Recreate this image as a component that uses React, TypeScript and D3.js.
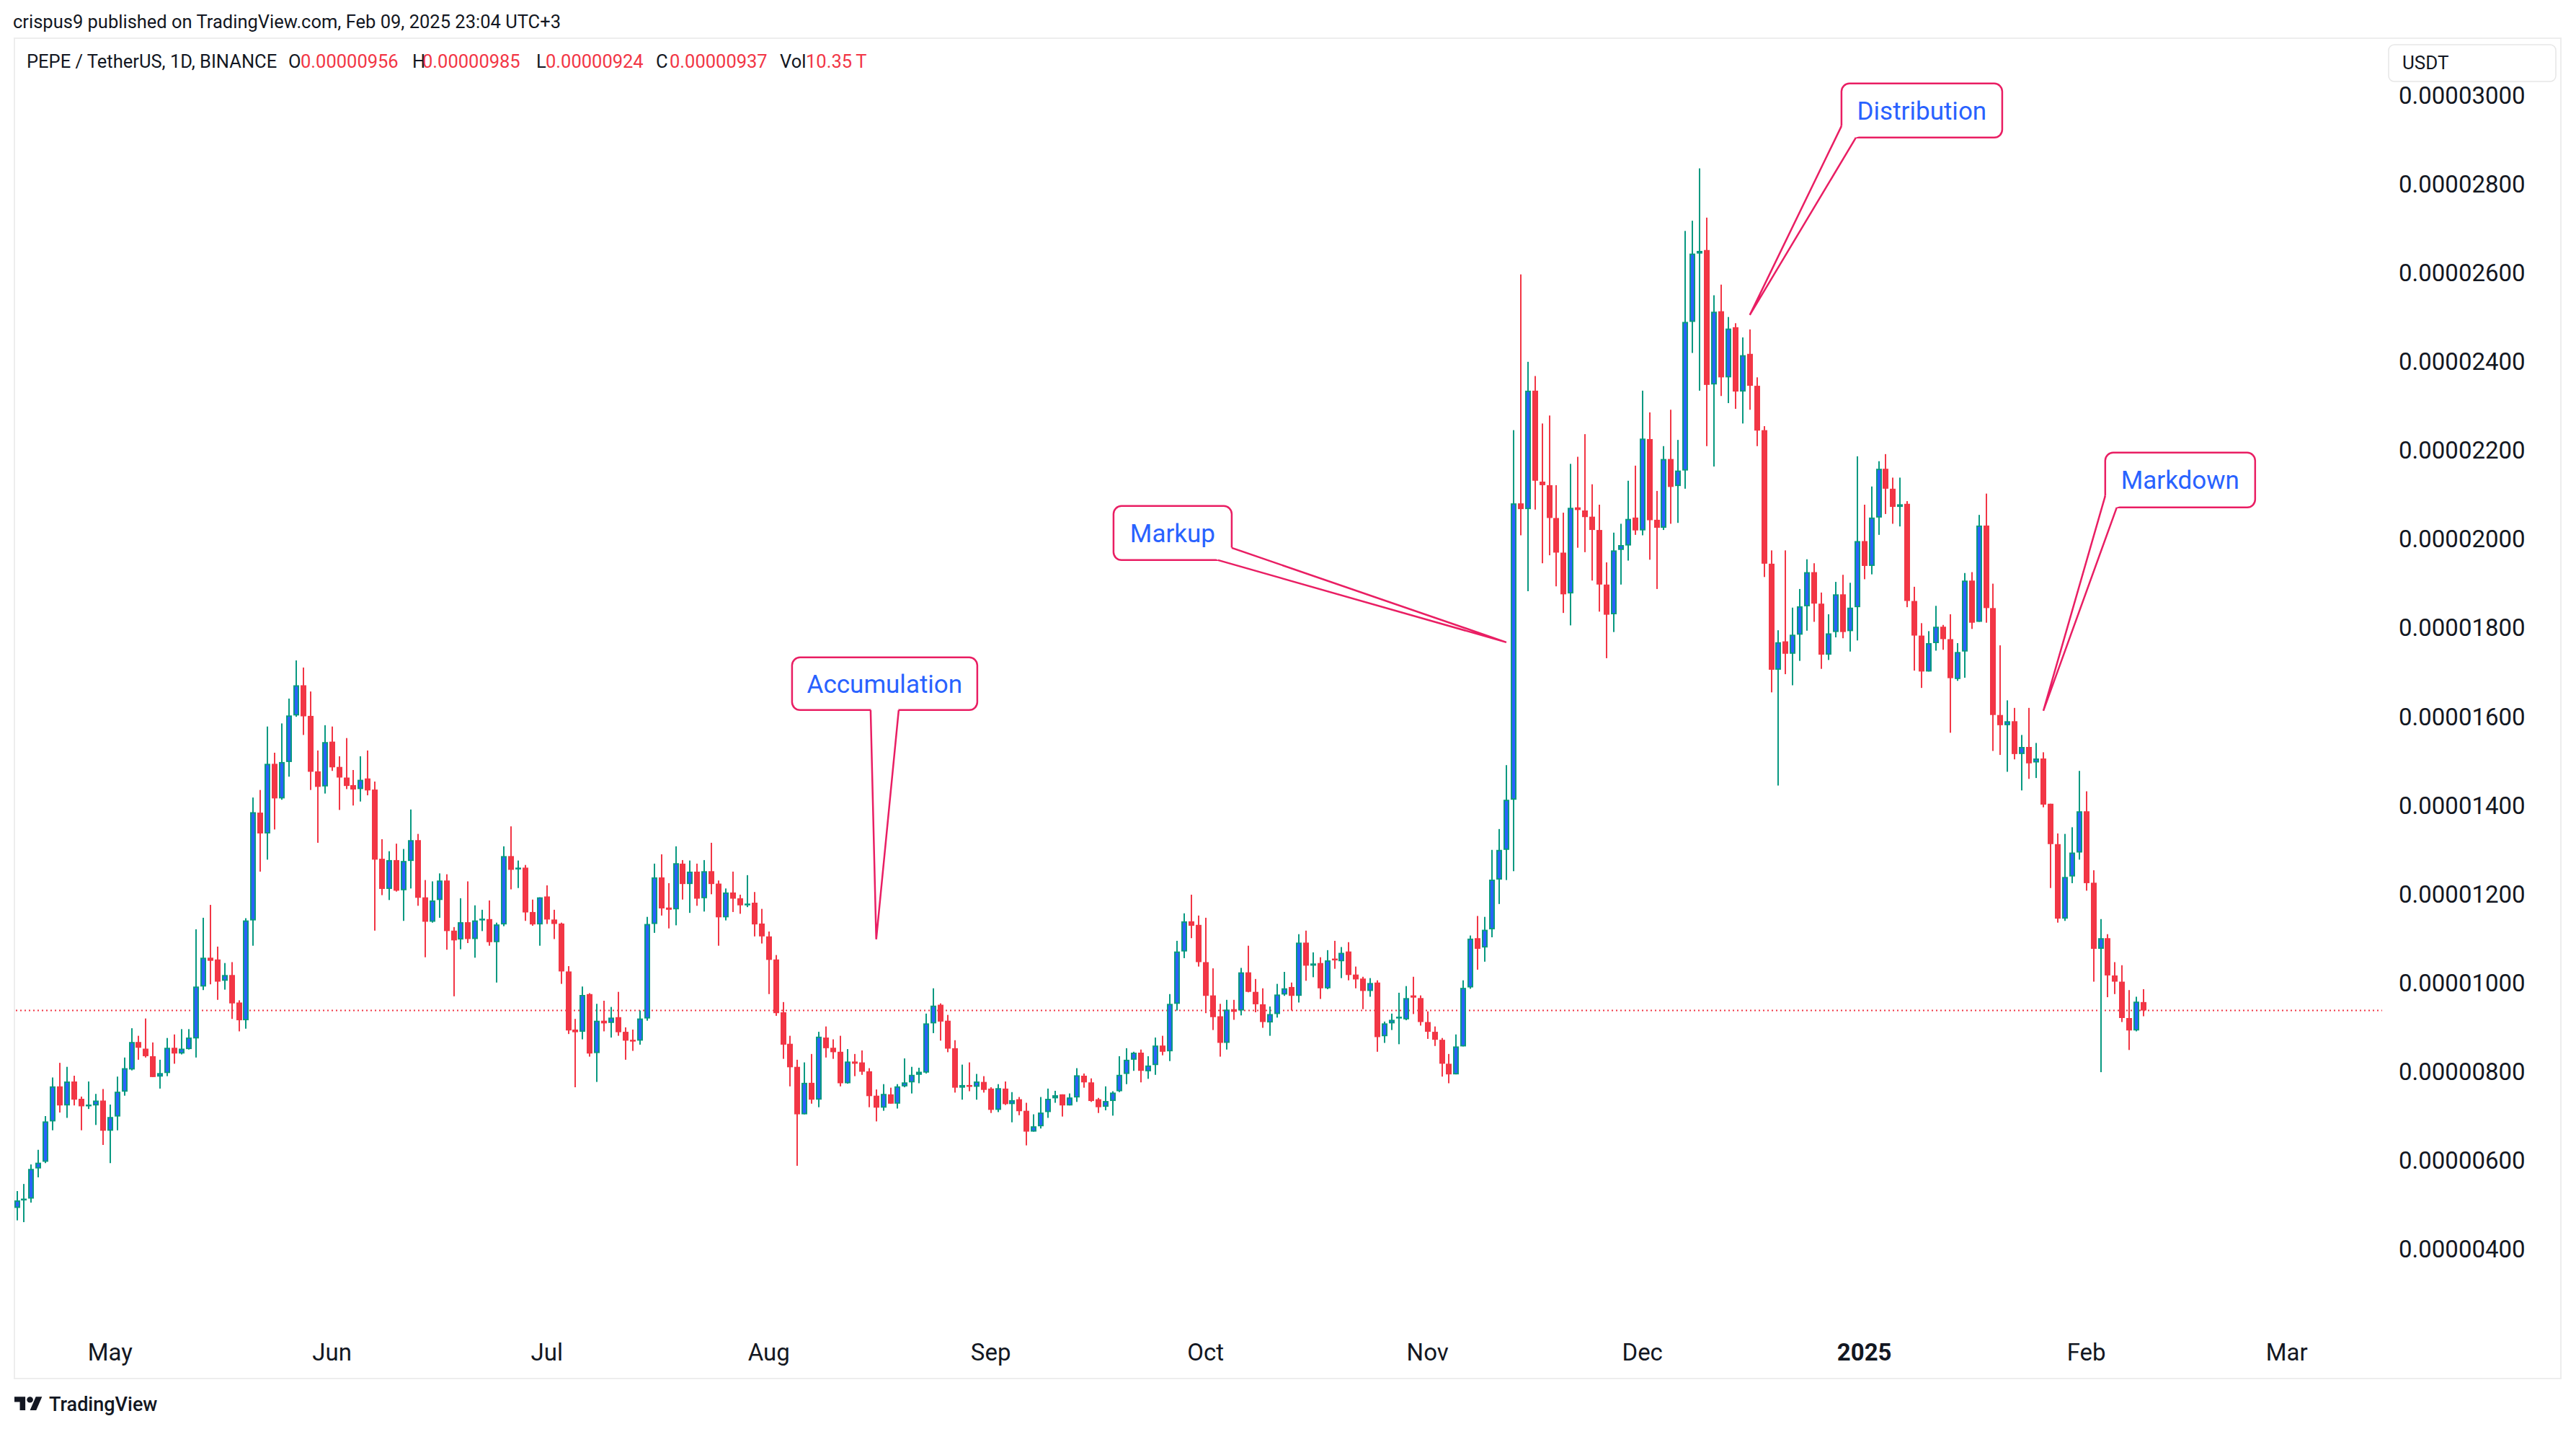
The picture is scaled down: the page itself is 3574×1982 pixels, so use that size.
import React, { useEffect } from "react";
import * as d3 from "d3";

const W = 3574;
const H = 1982;

// Daily candles, first candle date; values in units of 1e-6 USDT
const START_DATE = "2024-04-18";
const UNIT = 1e-6;

const OPEN = [
  4.92,5.09,5.13,5.81,5.96,6.87,7.66,7.23,7.77,7.38,
  7.23,7.23,7.34,6.66,6.98,7.54,8.04,8.66,8.51,8.34,
  7.88,7.96,8.53,8.40,8.50,8.74,9.91,10.56,10.52,10.04,
  10.17,9.55,9.15,11.40,13.83,13.36,14.93,14.15,14.97,16.02,
  16.70,16.01,14.76,14.42,15.43,14.86,14.62,14.45,14.36,14.60,
  14.35,12.79,12.11,12.76,12.08,12.74,13.21,11.92,11.37,11.86,
  12.30,11.17,10.97,11.36,10.98,11.43,11.43,10.91,11.31,12.85,
  12.55,12.59,11.59,11.31,11.94,11.42,11.33,10.25,8.94,8.89,
  9.74,8.41,9.14,9.09,9.22,8.89,8.71,8.69,9.19,11.32,
  12.37,11.69,11.65,12.68,12.22,12.50,11.90,12.51,12.23,11.47,
  12.03,11.90,11.74,11.80,11.33,11.04,10.52,9.33,8.62,8.10,
  7.03,7.74,7.36,8.76,8.53,8.44,7.73,8.22,8.20,8.00,
  7.45,7.18,7.48,7.27,7.66,7.75,7.92,7.97,9.08,9.50,
  9.14,8.52,7.63,7.69,7.65,7.76,7.61,7.13,7.61,7.26,
  7.37,7.11,6.64,6.76,7.08,7.39,7.48,7.23,7.41,7.90,
  7.75,7.37,7.20,7.33,7.55,7.94,8.26,8.42,8.00,8.14,
  8.58,8.45,9.52,10.70,11.38,11.30,10.46,9.71,9.24,8.64,
  9.40,9.37,10.23,9.79,9.51,9.10,9.29,9.73,9.90,9.70,
  10.90,10.38,10.44,9.87,10.54,10.48,10.70,10.18,10.09,9.81,
  10.00,8.79,9.08,9.19,9.17,9.71,9.65,9.11,8.89,8.71,
  8.17,7.93,8.56,9.89,11.00,10.79,11.20,12.32,12.99,14.12,
  20.80,20.67,23.34,21.29,21.21,20.47,19.69,18.77,20.71,20.64,
  20.50,20.20,18.97,18.30,19.75,19.85,20.48,20.19,22.25,20.43,
  20.25,21.80,21.19,21.54,24.89,26.43,26.51,23.48,25.13,23.64,
  24.77,23.32,24.17,23.45,22.45,19.44,17.05,17.69,17.41,17.84,
  18.48,19.25,18.54,17.39,17.90,18.75,17.92,18.46,19.95,19.39,
  20.48,21.58,21.13,20.72,20.79,18.60,17.82,17.01,17.65,18.02,
  17.74,16.84,17.46,19.06,18.13,20.30,18.44,16.03,15.80,15.89,
  15.15,15.31,14.96,15.05,14.03,13.12,11.44,12.39,12.93,13.86,
  12.25,10.76,11.00,10.16,10.02,9.20,8.92,9.56
];

const HIGH = [
  5.30,5.46,5.90,6.23,6.99,7.86,8.19,8.10,7.90,7.43,
  7.77,7.49,7.60,7.25,7.88,8.31,8.97,8.80,9.19,8.65,
  8.26,8.75,8.83,8.95,8.95,11.20,11.46,11.75,10.81,10.44,
  10.46,9.60,11.45,14.17,14.34,15.77,15.18,15.84,16.40,17.26,
  17.10,16.56,15.23,15.80,15.77,15.10,15.51,14.79,15.10,15.23,
  14.53,13.23,12.96,13.13,13.01,13.90,13.35,12.31,12.28,12.46,
  12.44,11.25,11.90,12.28,11.74,11.64,11.85,11.35,13.07,13.52,
  12.75,12.65,11.87,11.92,12.19,11.64,11.35,10.37,9.18,9.91,
  9.76,9.52,9.59,9.45,9.79,8.99,8.94,9.37,11.48,12.68,
  12.89,12.24,13.07,12.76,12.75,12.68,12.76,13.15,12.30,12.12,
  12.50,11.98,12.42,12.04,11.66,11.15,10.62,9.56,8.80,8.26,
  8.20,8.39,8.89,9.01,8.72,8.80,8.50,8.39,8.47,8.07,
  7.59,7.71,7.63,7.71,8.29,8.10,8.08,9.30,9.87,9.53,
  9.27,8.70,8.15,8.20,7.94,7.89,7.64,7.71,7.77,7.53,
  7.42,7.29,7.03,7.42,7.61,7.56,7.48,7.50,8.07,7.95,
  7.84,7.40,7.66,7.55,8.34,8.52,8.44,8.49,8.34,8.76,
  8.80,9.74,10.94,11.56,11.98,11.51,11.46,10.32,9.52,9.61,
  9.61,10.33,10.83,10.08,9.87,9.46,9.97,10.24,10.00,11.09,
  11.17,10.68,10.57,10.73,10.94,10.80,10.91,10.36,10.13,10.10,
  10.05,9.12,9.30,9.77,9.92,10.13,9.71,9.35,9.01,8.75,
  8.39,8.83,10.05,11.06,11.50,11.48,12.99,13.46,14.90,22.45,
  25.96,23.99,23.67,22.60,22.78,21.21,20.59,21.69,21.85,22.36,
  21.23,20.77,19.47,20.14,20.34,21.31,21.65,23.34,22.85,21.08,
  22.09,22.91,22.23,26.94,27.17,28.35,27.24,25.49,25.73,25.00,
  24.86,24.54,24.72,23.64,22.54,19.74,17.94,19.74,18.45,18.87,
  19.54,19.45,18.79,18.30,19.03,19.19,19.01,21.86,20.77,21.18,
  21.75,21.91,21.38,21.38,20.85,18.92,18.10,17.92,18.49,18.06,
  18.30,17.65,19.23,19.25,20.54,21.02,18.99,17.60,16.36,16.19,
  15.58,16.19,15.40,15.19,14.03,13.36,13.35,13.50,14.77,14.31,
  12.53,11.43,11.09,10.46,10.39,9.83,9.68,9.85
];

const LOW = [
  4.64,4.60,5.04,5.61,5.93,6.67,7.07,6.95,7.23,6.67,
  7.15,6.79,6.34,5.93,6.67,7.45,8.02,8.26,8.31,7.87,
  7.61,7.89,8.17,8.38,8.49,8.31,9.83,9.96,9.61,9.84,
  9.18,8.90,8.96,10.83,12.50,12.77,13.45,14.12,14.64,15.99,
  15.58,14.34,13.15,14.26,14.77,13.89,14.36,13.99,14.08,14.22,
  11.17,11.97,11.86,12.05,11.39,12.12,11.73,10.57,11.35,11.46,
  10.74,9.69,10.75,10.89,10.56,11.16,10.83,10.00,11.27,12.10,
  12.13,11.39,11.28,10.83,11.32,10.98,9.97,8.84,7.64,8.72,
  8.33,7.76,8.90,8.76,8.80,8.26,8.46,8.60,9.14,11.12,
  11.51,11.22,11.29,11.87,11.57,11.73,11.60,11.99,10.83,11.40,
  11.59,11.55,11.70,11.04,10.88,9.74,9.25,8.28,7.66,5.87,
  7.03,7.27,7.19,8.31,8.28,7.66,7.72,7.89,7.92,7.19,
  6.87,7.11,7.27,7.16,7.64,7.50,7.73,7.95,8.86,8.69,
  8.43,7.52,7.36,7.55,7.36,7.52,7.06,7.08,7.24,6.85,
  7.01,6.33,6.64,6.71,6.95,7.29,6.98,7.23,7.31,7.63,
  7.31,7.06,7.12,7.00,7.53,7.71,8.01,7.75,7.83,7.92,
  8.36,8.23,9.37,10.55,11.00,10.36,9.31,8.93,8.33,8.49,
  9.16,9.26,9.78,9.33,8.98,8.80,9.21,9.70,9.37,9.55,
  10.04,10.12,9.63,9.85,10.31,10.10,10.05,9.87,9.40,9.68,
  8.44,8.64,8.93,8.61,9.15,9.29,9.03,8.73,8.57,7.88,
  7.73,7.93,8.56,9.86,10.29,10.47,11.02,11.77,12.31,12.51,
  20.08,18.82,20.66,19.45,19.63,18.93,18.33,18.05,19.80,19.70,
  19.06,18.36,17.31,17.90,18.97,19.51,20.09,20.08,19.53,18.87,
  20.20,20.34,20.36,21.13,24.19,23.34,22.09,21.63,23.22,23.06,
  22.93,22.60,22.91,22.09,19.14,16.54,14.44,16.95,16.70,17.25,
  17.93,18.13,17.07,17.27,17.78,17.76,17.46,17.71,19.09,19.20,
  20.09,20.56,20.34,20.28,18.46,17.03,16.64,17.01,17.48,17.50,
  15.63,16.80,16.87,17.97,18.13,18.11,15.22,15.13,14.75,15.03,
  14.33,14.59,14.61,13.95,12.13,11.35,11.39,12.24,12.77,12.07,
  10.02,7.98,9.67,9.74,9.11,8.48,8.90,9.24
];

const CLOSE = [
  5.09,5.13,5.80,5.94,6.87,7.66,7.23,7.77,7.36,7.21,
  7.25,7.34,6.66,6.97,7.54,8.07,8.66,8.53,8.34,7.87,
  7.96,8.53,8.40,8.51,8.76,9.91,10.56,10.49,10.02,10.17,
  9.53,9.15,11.40,13.84,13.36,14.93,14.15,14.97,16.02,16.70,
  16.00,14.75,14.41,15.42,14.85,14.62,14.43,14.35,14.57,14.33,
  12.77,12.11,12.76,12.07,12.74,13.21,11.91,11.37,11.85,12.30,
  11.16,10.95,11.36,10.98,11.40,11.44,10.91,11.31,12.85,12.54,
  12.59,11.58,11.31,11.92,11.42,11.32,10.25,8.92,8.88,9.72,
  8.40,9.14,9.08,9.21,8.88,8.69,8.69,9.19,11.32,12.37,
  11.67,11.64,12.69,12.22,12.50,11.89,12.51,12.22,11.47,12.03,
  11.89,11.74,11.78,11.31,11.04,10.51,9.31,8.60,8.09,7.03,
  7.74,7.36,8.78,8.52,8.43,7.73,8.22,8.17,7.99,7.44,
  7.18,7.49,7.27,7.66,7.75,7.92,7.99,9.08,9.48,9.12,
  8.51,7.63,7.69,7.65,7.77,7.58,7.13,7.62,7.26,7.35,
  7.10,6.64,6.76,7.07,7.38,7.46,7.23,7.41,7.91,7.75,
  7.33,7.19,7.33,7.52,7.92,8.26,8.42,8.01,8.13,8.58,
  8.44,9.52,10.70,11.38,11.28,10.46,9.70,9.22,8.64,9.39,
  9.34,10.23,9.79,9.51,9.11,9.29,9.73,9.87,9.70,10.90,
  10.38,10.43,9.87,10.50,10.51,10.67,10.17,10.07,9.81,9.99,
  8.77,9.08,9.16,9.23,9.65,9.66,9.11,8.89,8.71,8.17,
  7.93,8.56,9.88,10.99,10.76,11.19,12.32,12.99,14.12,20.80,
  20.67,23.34,21.31,21.21,20.47,19.69,18.75,20.70,20.65,20.49,
  20.20,18.97,18.29,19.74,19.86,20.45,20.19,22.26,20.42,20.25,
  21.80,21.17,21.54,24.89,26.43,26.49,23.47,25.12,23.64,24.74,
  23.32,24.14,23.45,22.44,19.44,17.05,17.67,17.41,17.84,18.48,
  19.25,18.54,17.39,17.87,18.75,17.90,18.45,19.95,19.39,20.48,
  21.58,21.13,20.72,20.78,18.60,17.82,17.01,17.65,18.02,17.74,
  16.86,17.45,19.06,18.11,20.30,18.44,16.03,15.80,15.89,15.15,
  15.31,14.94,15.05,14.01,13.12,11.44,12.38,12.93,13.86,12.24,
  10.76,11.00,10.16,10.02,9.20,8.92,9.57,9.37
];

const LAST_PRICE = 9.37;

const PRICE_TICKS = [30, 28, 26, 24, 22, 20, 18, 16, 14, 12, 10, 8, 6, 4];

const TIME_TICKS = [
  { date: "2024-05-01", label: "May", bold: false },
  { date: "2024-06-01", label: "Jun", bold: false },
  { date: "2024-07-01", label: "Jul", bold: false },
  { date: "2024-08-01", label: "Aug", bold: false },
  { date: "2024-09-01", label: "Sep", bold: false },
  { date: "2024-10-01", label: "Oct", bold: false },
  { date: "2024-11-01", label: "Nov", bold: false },
  { date: "2024-12-01", label: "Dec", bold: false },
  { date: "2025-01-01", label: "2025", bold: true },
  { date: "2025-02-01", label: "Feb", bold: false },
  { date: "2025-03-01", label: "Mar", bold: false },
];

const PUBLISHED = "crispus9 published on TradingView.com, Feb 09, 2025 23:04 UTC+3";
const LEGEND_TITLE = "PEPE / TetherUS, 1D, BINANCE";
const LEGEND_KEYS = ["O", "H", "L", "C", "Vol"];
const LEGEND_VALUES = ["0.00000956", "0.00000985", "0.00000924", "0.00000937", "10.35\u2009T"];
const CURRENCY = "USDT";

// callouts: tip anchored on (date, price)
const CALLOUT_TEXT = ["Accumulation", "Markup", "Distribution", "Markdown"];
const CALLOUT_TIP_DATE = ["2024-08-16", "2024-11-12", "2024-12-16", "2025-01-26"];
const CALLOUT_TIP_PRICE = [10.974, 17.669, 25.046, 16.125];

const TEAL = "#089981";
const BLUE = "#2962FF";
const RED = "#F23645";
const PINK = "#E91E63";
const INK = "#131722";
const FONT = "Roboto, 'Liberation Sans', Arial, sans-serif";

const utc = (s: string) => new Date(s + "T00:00:00Z");

export default function App() {
  useEffect(() => {
    document.body.style.margin = "0";
    document.body.style.overflow = "hidden";
  }, []);

  const x = d3.scaleUtc().domain([utc("2024-05-01"), utc("2025-03-01")]).range([152.7, 3172.8]);
  const y = d3.scaleLinear().domain([4, 30]).range([1732, 132]);

  const start = utc(START_DATE);
  const candles = OPEN.map((o, i) => ({
    date: d3.utcDay.offset(start, i),
    o, h: HIGH[i], l: LOW[i], c: CLOSE[i],
  }));

  const fmt = (v: number) => (v * UNIT).toFixed(8);

  // callout box geometry (pixel offsets relative to tip)
  const calloutGeom = [
    { dx: -116.8, dy: -391, w: 257, h: 73, b1: [109, 73], b2: [148, 73] },
    { dx: -545, dy: -189, w: 164, h: 75, b1: [164, 58], b2: [145, 75] },
    { dx: 127.2, dy: -321, w: 223, h: 75, b1: [0, 59], b2: [20, 75] },
    { dx: 85.8, dy: -358, w: 208, h: 76, b1: [0, 60], b2: [16, 76] },
  ];

  const legendX = [400, 572, 744, 910, 1082];
  const legendVX = [417, 586, 757, 929, 1118];

  const yLast = y(LAST_PRICE);

  return (
    <svg
      width={W}
      height={H}
      viewBox={`0 0 ${W} ${H}`}
      style={{ position: "absolute", left: 0, top: 0, background: "#ffffff" }}
      fontFamily={FONT}
    >
      <rect x={0} y={0} width={W} height={H} fill="#ffffff" />

      <text x={18} y={39} fontSize={25.5} fill={INK}>{PUBLISHED}</text>

      <rect x={20} y={53} width={3533} height={1859} fill="none" stroke="#EDEDED" strokeWidth={2} />

      {/* legend */}
      <text x={37} y={94} fontSize={25.5} fill={INK}>{LEGEND_TITLE}</text>
      {LEGEND_KEYS.map((k, i) => (
        <g key={k}>
          <text x={legendX[i]} y={94} fontSize={25.5} fill={INK}>{k}</text>
          <text x={legendVX[i]} y={94} fontSize={25.5} fill={RED}>{LEGEND_VALUES[i]}</text>
        </g>
      ))}

      {/* currency box */}
      <rect x={3314} y={62} width={232} height={51} rx={8} fill="#ffffff" stroke="#E6E6E6" strokeWidth={1.5} />
      <text x={3333} y={96} fontSize={26} fill={INK}>{CURRENCY}</text>

      {/* price axis labels */}
      {PRICE_TICKS.map((p) => (
        <text key={p} x={3328} y={y(p) + 12} fontSize={33} fill={INK}>{fmt(p)}</text>
      ))}

      {/* time axis labels */}
      {TIME_TICKS.map((t) => (
        <text
          key={t.label}
          x={x(utc(t.date))}
          y={1887}
          fontSize={33}
          textAnchor="middle"
          fontWeight={t.bold ? 700 : 400}
          fill={INK}
        >
          {t.label}
        </text>
      ))}

      {/* last price dotted line */}
      <line x1={22} x2={3305} y1={yLast} y2={yLast} stroke={RED} strokeWidth={2} strokeDasharray="2 4" />

      {/* candles */}
      {candles.map((d, i) => {
        const cx = Math.round(x(d.date));
        const up = d.c >= d.o;
        const col = up ? TEAL : RED;
        const yTop = y(Math.max(d.o, d.c));
        const yBot = y(Math.min(d.o, d.c));
        const bh = Math.max(2.5, yBot - yTop);
        const yh = y(d.h);
        const yl = y(d.l);
        return (
          <g key={i}>
            <rect x={cx - 1} y={yh} width={2} height={Math.max(1, yl - yh)} fill={col} />
            <rect x={cx - 4} y={yTop} width={8} height={bh} fill={col} />
            {up && bh > 4.5 ? (
              <rect x={cx - 2} y={yTop + 2} width={4} height={bh - 4} fill={BLUE} />
            ) : null}
          </g>
        );
      })}

      {/* callouts */}
      {CALLOUT_TEXT.map((txt, i) => {
        const g = calloutGeom[i];
        const tx = x(utc(CALLOUT_TIP_DATE[i]));
        const ty = y(CALLOUT_TIP_PRICE[i]);
        const x0 = tx + g.dx;
        const y0 = ty + g.dy;
        const b1 = [x0 + g.b1[0], y0 + g.b1[1]];
        const b2 = [x0 + g.b2[0], y0 + g.b2[1]];
        const cxm = x0 + g.w / 2;
        const cym = y0 + g.h / 2;
        return (
          <g key={txt}>
            <rect x={x0} y={y0} width={g.w} height={g.h} rx={11} fill="#ffffff" stroke={PINK} strokeWidth={2.5} />
            <polygon points={`${b1[0]},${b1[1]} ${tx},${ty} ${b2[0]},${b2[1]} ${cxm},${cym}`} fill="#ffffff" />
            <polyline
              points={`${b1[0]},${b1[1]} ${tx},${ty} ${b2[0]},${b2[1]}`}
              fill="none"
              stroke={PINK}
              strokeWidth={2.5}
              strokeLinejoin="miter"
            />
            <text x={cxm} y={cym + 12.5} fontSize={35} textAnchor="middle" fill={BLUE}>{txt}</text>
          </g>
        );
      })}

      {/* TradingView logo */}
      <g transform="translate(20,1933) scale(1.08,1.05)" fill={INK}>
        <path d="M14 22H7V11H0V4h14v18zM28 22h-8l7.5-18h8L28 22z" />
        <circle cx={20} cy={8} r={4} />
      </g>
      <text x={68} y={1957} fontSize={27} fontWeight={500} fill={INK}>TradingView</text>
    </svg>
  );
}
